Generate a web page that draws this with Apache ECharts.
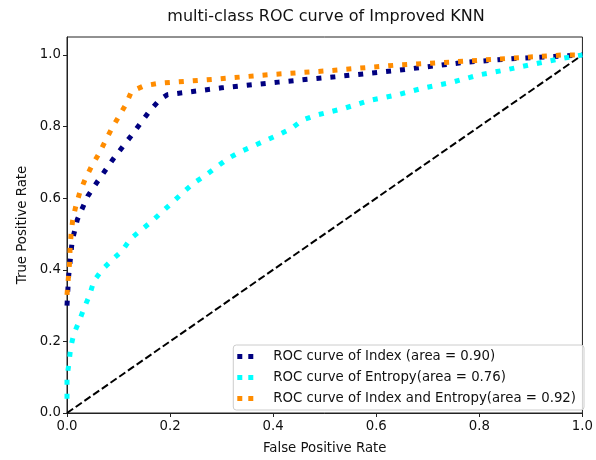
<!DOCTYPE html>
<html>
<head>
<meta charset="utf-8">
<script src="https://cdn.jsdelivr.net/npm/echarts@6/dist/echarts.min.js"></script>
<style>
  html, body { margin: 0; padding: 0; background: #fff; }
  #roc { width: 596px; height: 460px; }
</style>
</head>
<body>
<div id="roc"></div>
<script>
// ROC points (false positive rate / true positive rate)
var fprIndex = [0, 0.003, 0.01, 0.02, 0.04, 0.06, 0.09, 0.125, 0.16, 0.18, 0.195, 0.30, 0.41, 0.52, 0.63, 0.77, 0.87, 1]
var tprIndex = [0.30, 0.38, 0.48, 0.54, 0.605, 0.648, 0.71, 0.775, 0.843, 0.875, 0.889, 0.908, 0.924, 0.939, 0.955, 0.979, 0.99, 1]

var fprEntropy = [0, 0, 0.004, 0.007, 0.013, 0.024, 0.033, 0.044, 0.052, 0.068, 0.087, 0.107, 0.123, 0.144, 0.165, 0.186, 0.206, 0.226, 0.247, 0.269, 0.292, 0.314, 0.337, 0.362, 0.388, 0.412, 0.436, 0.457, 0.484, 0.51, 0.536, 0.587, 0.642, 0.693, 0.748, 0.799, 0.854, 0.908, 0.96, 1]
var tprEntropy = [0.04, 0.10, 0.141, 0.181, 0.22, 0.258, 0.292, 0.33, 0.368, 0.40, 0.427, 0.453, 0.486, 0.511, 0.536, 0.564, 0.59, 0.617, 0.643, 0.664, 0.689, 0.712, 0.73, 0.746, 0.763, 0.778, 0.795, 0.818, 0.832, 0.841, 0.85, 0.873, 0.889, 0.908, 0.924, 0.944, 0.959, 0.975, 0.99, 1]

var fprBoth = [0, 0.005, 0.006, 0.008, 0.011, 0.017, 0.025, 0.035, 0.048, 0.062, 0.0745, 0.087, 0.101, 0.115, 0.125, 0.15, 0.18, 0.285, 0.394, 0.5, 0.635, 0.744, 0.854, 0.963, 1]
var tprBoth = [0.33, 0.42, 0.46, 0.50, 0.538, 0.577, 0.617, 0.652, 0.69, 0.724, 0.76, 0.795, 0.829, 0.864, 0.898, 0.914, 0.921, 0.932, 0.945, 0.955, 0.971, 0.98, 0.99, 1.0, 1]

var chanceFpr = [0, 1]
var chanceTpr = [0, 1]

var seriesNames = [
  'ROC curve of Index (area = 0.90)',
  'ROC curve of Entropy(area = 0.76)',
  'ROC curve of Index and Entropy(area = 0.92)'
]
var seriesColors = ['#000080', '#00ffff', '#ff8c00']
var tickValues = [0, 0.2, 0.4, 0.6, 0.8, 1.0]

function zip (xs, ys) {
  return xs.map(function (x, i) { return [x, ys[i]] })
}

function rocLine (name, color, xs, ys) {
  return {
    name: name,
    type: 'line',
    showSymbol: false,
    symbol: 'none',
    color: color,
    lineStyle: { color: color, width: 5, type: [5, 9], cap: 'butt' },
    data: zip(xs, ys)
  }
}

var myChart = echarts.init(document.getElementById('roc'))
var font = 'DejaVu Sans'
var dotsIcon = 'path://M0,0h5v5h-5z M11,0h5v5h-5z'

var option = {
  animation: false,
  textStyle: { fontFamily: font },
  title: {
    text: 'multi-class ROC curve of Improved KNN',
    left: 326,
    top: 9,
    textAlign: 'center',
    padding: 0,
    textStyle: { fontFamily: font, fontSize: 16, fontWeight: 'normal', color: '#111' }
  },
  grid: {
    left: 67,
    right: 10,
    top: 37,
    bottom: 43,
    show: true,
    borderColor: '#222',
    borderWidth: 1,
    containLabel: false
  },
  legend: {
    orient: 'vertical',
    right: 12,
    bottom: 50,
    padding: [4, 8, 4, 4],
    itemGap: 6,
    itemWidth: 16,
    itemHeight: 5,
    icon: dotsIcon,
    borderColor: '#ccc',
    borderWidth: 1,
    borderRadius: 3,
    backgroundColor: 'rgba(255,255,255,0.8)',
    data: seriesNames,
    textStyle: { fontFamily: font, fontSize: 13.3, color: '#111', lineHeight: 15, padding: [0, 0, 0, 15] }
  },
  xAxis: {
    type: 'value',
    min: 0,
    max: 1,
    interval: 0.2,
    name: 'False Positive Rate',
    nameLocation: 'middle',
    nameGap: 29,
    nameTextStyle: { fontFamily: font, fontSize: 13.3, color: '#111' },
    axisLine: { show: true, lineStyle: { color: '#222' } },
    axisTick: { show: true, length: 4, lineStyle: { color: '#222' } },
    axisLabel: {
      margin: 7,
      fontSize: 13.3,
      color: '#111',
      fontFamily: font,
      formatter: function (v) { return v.toFixed(1) }
    },
    splitLine: { show: false }
  },
  yAxis: {
    type: 'value',
    min: 0,
    max: 1.05,
    name: 'True Positive Rate',
    nameLocation: 'middle',
    nameGap: 35,
    nameTextStyle: { fontFamily: font, fontSize: 13.3, color: '#111' },
    axisLine: { show: true, lineStyle: { color: '#222' } },
    axisTick: { show: true, length: 4, customValues: tickValues, lineStyle: { color: '#222' } },
    axisLabel: {
      margin: 6,
      fontSize: 13.3,
      color: '#111',
      fontFamily: font,
      customValues: tickValues,
      formatter: function (v) { return v.toFixed(1) }
    },
    splitLine: { show: false }
  },
  series: [
    rocLine(seriesNames[0], seriesColors[0], fprIndex, tprIndex),
    rocLine(seriesNames[1], seriesColors[1], fprEntropy, tprEntropy),
    rocLine(seriesNames[2], seriesColors[2], fprBoth, tprBoth),
    {
      name: 'chance',
      type: 'line',
      showSymbol: false,
      symbol: 'none',
      lineStyle: { color: '#000', width: 2, type: [7.4, 3.2] },
      data: zip(chanceFpr, chanceTpr),
      z: 1
    }
  ]
}

myChart.setOption(option)
</script>
</body>
</html>
